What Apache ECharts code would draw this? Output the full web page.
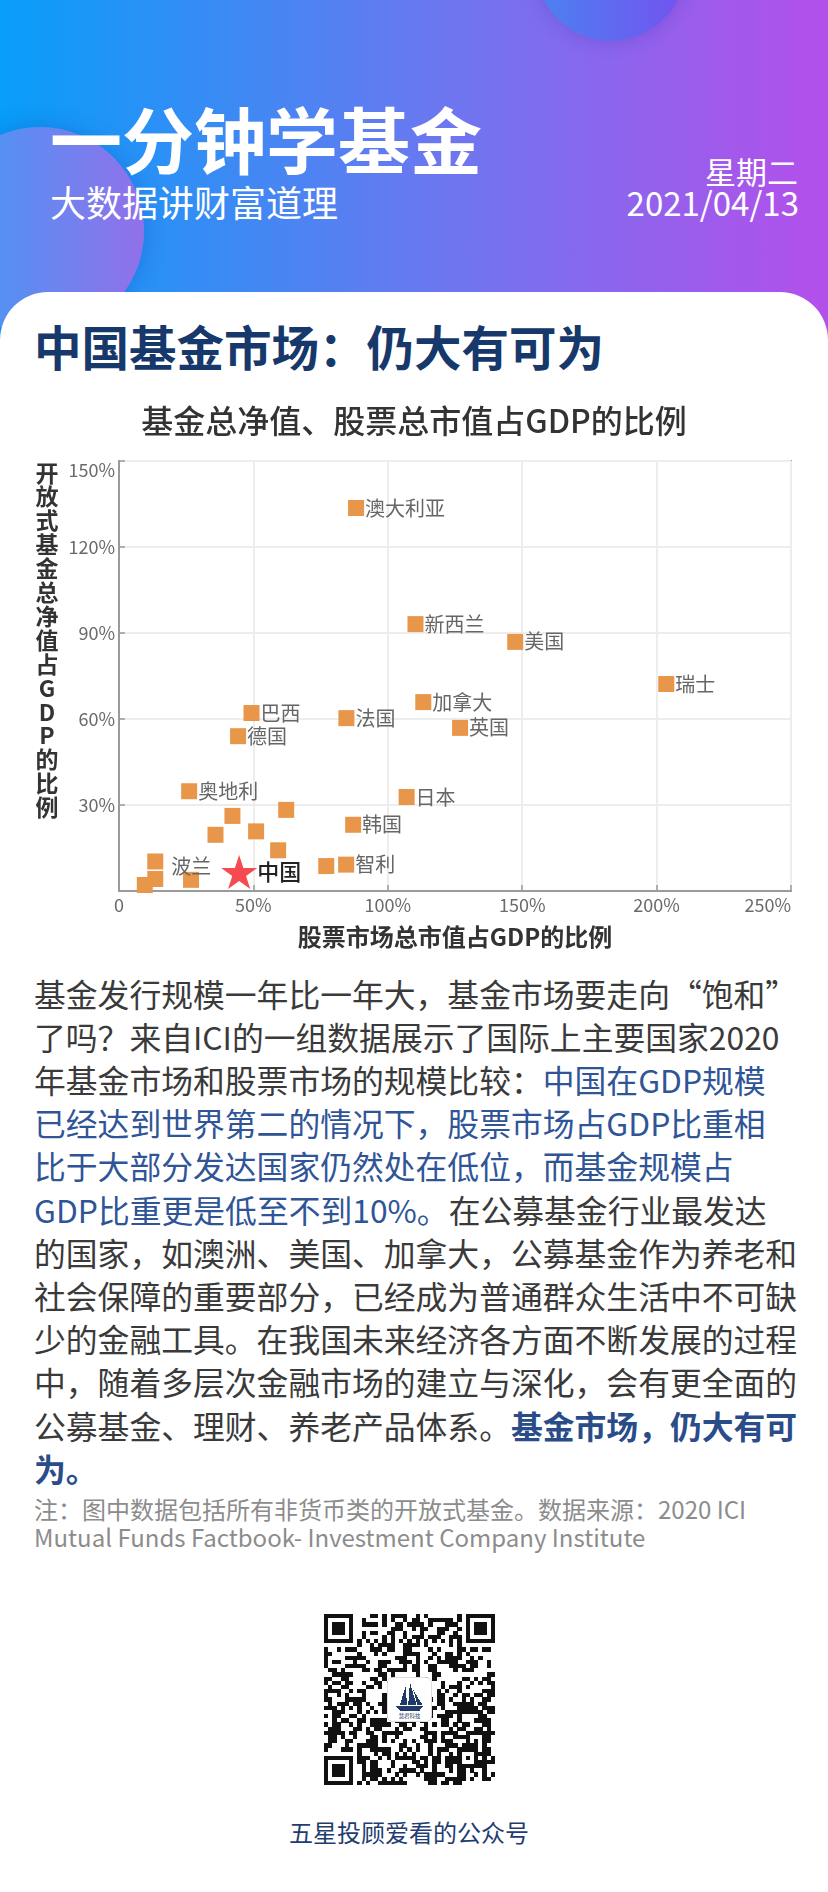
<!DOCTYPE html>
<html>
<head>
<meta charset="utf-8">
<script src="https://cdn.jsdelivr.net/npm/echarts@6/dist/echarts.min.js"></script>
<style>
html,body{margin:0;padding:0;width:828px;height:1892px;overflow:hidden;background:#fff;font-family:"Noto Sans CJK SC","Noto Sans",sans-serif;}
.abs{position:absolute;white-space:pre;}
#hdr{position:absolute;left:0;top:0;width:828px;height:360px;background:linear-gradient(90deg,#079ef9 0%,#6a78f0 52%,#b44fea 100%);overflow:hidden;}
#c1{position:absolute;left:536px;top:-109px;width:150px;height:150px;border-radius:50%;background:linear-gradient(90deg,#4b82f2,#7452ee);box-shadow:0 0 18px rgba(40,40,160,0.25);}
#c2{position:absolute;left:-64px;top:127px;width:208px;height:208px;border-radius:50%;background:linear-gradient(90deg,#3a9ff6,#9270ea);box-shadow:0 0 22px rgba(20,60,170,0.3);}
#card{position:absolute;left:0;top:292px;width:828px;height:1600px;background:#fff;border-radius:48px 48px 0 0;}
.w{color:#fff;}
#body{left:34px;top:971.6px;font-size:31.8px;line-height:43.2px;color:#3a3a3a;}
.bl{color:#2f5597;}
.bb{color:#2a4d8a;font-weight:bold;}
#note{left:34px;top:1494.5px;font-size:24px;line-height:28.3px;color:#8c8c8c;}
#cap{left:0;top:1819.7px;width:818px;text-align:center;font-size:24px;line-height:24px;color:#1f3d70;}
#chart{position:absolute;left:0;top:370px;width:828px;height:600px;}
#qr{position:absolute;left:324px;top:1614px;width:171px;height:171px;}
</style>
</head>
<body>
<div id="hdr">
  <div id="c1"></div>
  <div id="c2"></div>
  <div class="abs w" style="left:50px;top:101px;font-size:72px;line-height:72px;font-weight:bold;">一分钟学基金</div>
  <div class="abs w" style="left:50px;top:183px;font-size:36px;line-height:36px;">大数据讲财富道理</div>
  <div class="abs w" style="right:30px;top:154.8px;font-size:31px;line-height:31px;text-align:right;">星期二</div>
  <div class="abs w" style="right:29px;top:186px;font-size:33px;line-height:33px;text-align:right;">2021/04/13</div>
</div>
<div id="card"></div>
<div class="abs" style="left:34px;top:322px;font-size:47.5px;line-height:47.5px;font-weight:bold;color:#16386b;">中国基金市场：仍大有可为</div>
<div id="chart"></div>
<div id="body" class="abs">基金发行规模一年比一年大，基金市场要走向“饱和”
了吗？来自ICI的一组数据展示了国际上主要国家2020
年基金市场和股票市场的规模比较：<span class="bl">中国在GDP规模</span>
<span class="bl">已经达到世界第二的情况下，股票市场占GDP比重相</span>
<span class="bl">比于大部分发达国家仍然处在低位，而基金规模占</span>
<span class="bl">GDP比重更是低至不到10%。</span>在公募基金行业最发达
的国家，如澳洲、美国、加拿大，公募基金作为养老和
社会保障的重要部分，已经成为普通群众生活中不可缺
少的金融工具。在我国未来经济各方面不断发展的过程
中，随着多层次金融市场的建立与深化，会有更全面的
公募基金、理财、养老产品体系。<span class="bb">基金市场，仍大有可</span>
<span class="bb">为。</span></div>
<div id="note" class="abs">注：图中数据包括所有非货币类的开放式基金。数据来源：2020 ICI
Mutual Funds Factbook- Investment Company Institute</div>
<svg id="qr" viewBox="0 0 41 41" shape-rendering="crispEdges"></svg>
<div id="cap" class="abs">五星投顾爱看的公众号</div>

<script>
// ---- chart data ----
const countryNames = ['澳大利亚','新西兰','美国','瑞士','加拿大','英国','日本','巴西','德国','法国','奥地利','韩国','智利','波兰','','','','','','','','',''];
const stockCapPct  = [88.2, 110.3, 147.4, 203.6, 113.2, 126.9, 107.0, 49.3, 44.3, 84.6, 26.1, 87.1, 84.5, 13.5, 42.2, 62.2, 35.9, 51.0, 59.2, 77.1, 13.5, 9.6, 26.8];
const fundNavPct   = [133.6, 93.1, 86.9, 72.2, 65.9, 56.9, 32.8, 62.1, 54.0, 60.3, 34.8, 23.1, 9.2, 10.3, 26.2, 28.3, 19.6, 20.8, 14.2, 8.7, 4.2, 2.1, 3.9];
const chinaName = '中国';
const chinaStockCapPct = 44.7;
const chinaFundNavPct = 6.6;
const xTicks = [0, 50, 100, 150, 200, 250];
const yTicks = [0, 30, 60, 90, 120, 150];
const chartTitle = '基金总净值、股票总市值占GDP的比例';
const xName = '股票市场总市值占GDP的比例';
const yName = '开放式基金总净值占GDP的比例';

const FONT = '"Noto Sans CJK SC","Noto Sans",sans-serif';
const points = countryNames.map((n, i) => {
  const item = { name: n, value: [stockCapPct[i], fundNavPct[i]] };
  if (n === '波兰') item.label = { distance: 8, offset: [0, 5] };
  return item;
});

const chart = echarts.init(document.getElementById('chart'), null, { renderer: 'canvas' });
chart.setOption({
  animation: false,
  textStyle: { fontFamily: FONT },
  title: {
    text: chartTitle, left: 'center', top: 30,
    textStyle: { fontSize: 32, fontWeight: 500, color: '#333', fontFamily: FONT }
  },
  grid: { left: 119, right: 37, top: 91, height: 430, show: true, borderColor: '#9a9a9a', borderWidth: 2, backgroundColor: 'transparent' },
  xAxis: {
    type: 'value', min: xTicks[0], max: xTicks[xTicks.length - 1], interval: xTicks[1] - xTicks[0],
    name: xName, nameLocation: 'middle', nameGap: 34,
    nameTextStyle: { fontSize: 24, fontWeight: 'bold', color: '#333', fontFamily: FONT },
    axisLine: { lineStyle: { color: '#9a9a9a', width: 2 } },
    axisTick: { show: true, inside: true, length: 6, lineStyle: { color: '#9a9a9a', width: 1.5 } },
    splitLine: { show: true, lineStyle: { color: '#ededed', width: 2 } },
    axisLabel: { fontSize: 18, color: '#6b6b6b', margin: 5, fontFamily: FONT, alignMaxLabel: 'right',
      formatter: v => v === 0 ? '0' : v + '%' }
  },
  yAxis: {
    type: 'value', min: yTicks[0], max: yTicks[yTicks.length - 1], interval: yTicks[1] - yTicks[0],
    name: yName.split('').join('\n') + '\n \n \n ', nameLocation: 'middle', nameRotate: 0, nameGap: 72,
    nameTextStyle: { fontSize: 23, lineHeight: 23.9, fontWeight: 'bold', color: '#333', align: 'center', fontFamily: FONT },
    axisLine: { show: true, lineStyle: { color: '#9a9a9a', width: 2 } },
    axisTick: { show: true, inside: true, length: 6, lineStyle: { color: '#9a9a9a', width: 1.5 } },
    splitLine: { show: true, lineStyle: { color: '#ededed', width: 2 } },
    axisLabel: { fontSize: 18, color: '#6b6b6b', margin: 4, fontFamily: FONT, showMinLabel: false, verticalAlignMaxLabel: 'top',
      formatter: v => v + '%' }
  },
  series: [
    {
      type: 'scatter', symbol: 'rect', symbolSize: 16, z: 2,
      itemStyle: { color: '#e8964a', opacity: 1 },
      label: { show: true, position: 'right', distance: 1, formatter: '{b}', color: '#666', fontSize: 20, fontFamily: FONT },
      data: points
    },
    {
      type: 'scatter', symbol: 'path://M50,0 L61.8,36.2 L100,36.2 L69.1,58.8 L80.9,95.1 L50,72.7 L19.1,95.1 L30.9,58.8 L0,36.2 L38.2,36.2 Z',
      symbolSize: [36, 34], z: 2,
      itemStyle: { color: '#f44a50', opacity: 1 },
      label: { show: true, position: 'right', distance: 0, formatter: '{b}', color: '#222', fontSize: 22, fontWeight: 500, fontFamily: FONT },
      data: [{ name: chinaName, value: [chinaStockCapPct, chinaFundNavPct] }]
    }
  ]
});

// ---- decorative QR-style code (fixed pattern) ----
(function () {
  const N = 41, svg = document.getElementById('qr');
  const grid = [];
  for (let r = 0; r < N; r++) { grid.push(new Array(N).fill(-1)); }
  function finder(r0, c0) {
    for (let r = -1; r <= 7; r++) for (let c = -1; c <= 7; c++) {
      const rr = r0 + r, cc = c0 + c;
      if (rr < 0 || cc < 0 || rr >= N || cc >= N) continue;
      let on = 0;
      if (r >= 0 && r <= 6 && c >= 0 && c <= 6) {
        on = (r === 0 || r === 6 || c === 0 || c === 6 || (r >= 2 && r <= 4 && c >= 2 && c <= 4)) ? 1 : 0;
      }
      grid[rr][cc] = on;
    }
  }
  finder(0, 0); finder(0, N - 7); finder(N - 7, 0);
  for (let r = -2; r <= 2; r++) for (let c = -2; c <= 2; c++) {
    grid[34 + r][34 + c] = (Math.max(Math.abs(r), Math.abs(c)) !== 1) ? 1 : 0;
  }
  for (let i = 8; i < N - 8; i++) { if (grid[6][i] < 0) grid[6][i] = i % 2 === 0 ? 1 : 0; if (grid[i][6] < 0) grid[i][6] = i % 2 === 0 ? 1 : 0; }
  function h(r, c) { let x = (r * 374761393 + c * 668265263) | 0; x = (x ^ (x >>> 13)) * 1274126177 | 0; x = x ^ (x >>> 16); return (x >>> 3) & 1; }
  let s = '<rect x="0" y="0" width="41" height="41" fill="#fff"/>';
  for (let r = 0; r < N; r++) for (let c = 0; c < N; c++) {
    let v = grid[r][c]; if (v < 0) v = h(r, c);
    if (v) s += '<rect x="' + c + '" y="' + r + '" width="1.02" height="1.02" fill="#111"/>';
  }
  s += '<rect x="15.2" y="15.2" width="10.6" height="10.6" rx="1.4" fill="#fff" stroke="#d8d8d8" stroke-width="0.2"/>';
  s += '<path d="M17.2,22 L23.8,22 L22.9,23.2 L18.2,23.2 Z" fill="#1f3a66"/>';
  s += '<path d="M18.2,21.8 L19.6,17.2 L19.9,21.8 Z M20.2,21.8 L20.6,16.4 L22.2,21.8 Z M22.4,21.8 L21.4,18.2 L23.6,21.8 Z" fill="#1f3a66"/>';
  s += '<text x="20.5" y="24.9" font-size="1.3" text-anchor="middle" fill="#1f3a66" font-family="Noto Sans CJK SC">慧君科技</text>';
  svg.innerHTML = s;
})();
</script>
</body>
</html>
